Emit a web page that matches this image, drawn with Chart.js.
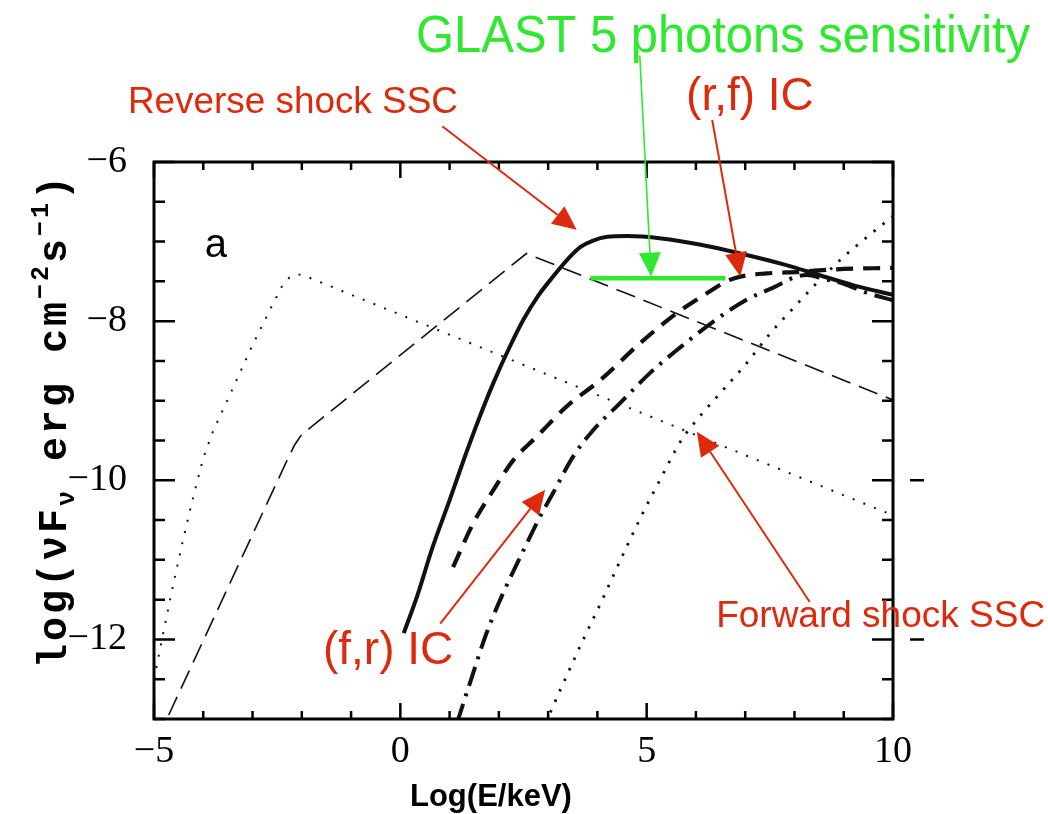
<!DOCTYPE html>
<html>
<head>
<meta charset="utf-8">
<script src="https://cdn.jsdelivr.net/npm/chart.js@4.4.0/dist/chart.umd.min.js"></script>
<style>
  html, body { margin: 0; padding: 0; background: #fff; }
  #chart { display: block; }
</style>
</head>
<body>
<canvas id="chart" width="1048" height="814"></canvas>
<script>
// ---- data (log E/keV  vs  log nuFnu) ----
const xTickVals = [-5, 0, 5, 10];
const yTickVals = [-12, -10, -8, -6];

// thin dotted, peak near -2
const revSynX = [-5.0, -4.8, -4.6, -4.4, -4.2, -4.0, -3.8, -3.5, -3.0, -2.6, -2.4, -2.25, -2.08, -1.9, 10.0];
const revSynY = [-12.5, -11.88, -11.28, -10.72, -10.2, -9.72, -9.38, -8.98, -8.3, -7.8, -7.56, -7.45, -7.41, -7.44, -10.44];

// thin long dashed, peak near 2.6
const fwdSynX = [-4.95, -2.3, -2.15, -2.02, -1.85, 2.56, 10.0];
const fwdSynY = [-13.28, -9.75, -9.56, -9.44, -9.35, -7.15, -8.99];

// thick solid: reverse shock SSC
const revSscX = [0.07, 0.35, 0.65, 1.0, 1.3, 1.6, 1.9, 2.2, 2.5, 2.8, 3.1, 3.4, 3.65, 3.9, 4.2, 4.6, 5.3, 6.1, 6.9, 7.8, 8.5, 9.2, 10.0];
const revSscY = [-11.92, -11.44, -10.85, -10.25, -9.72, -9.22, -8.76, -8.35, -7.98, -7.68, -7.44, -7.22, -7.07, -6.99, -6.94, -6.93, -6.96, -7.04, -7.15, -7.29, -7.42, -7.55, -7.67];

// thick dashed: (r,f) IC
const rfIcX = [1.07, 1.48, 1.89, 2.29, 2.77, 3.38, 4.06, 4.86, 5.61, 6.22, 6.62, 6.9, 7.43, 8.11, 8.79, 10.0];
const rfIcY = [-11.09, -10.54, -10.12, -9.75, -9.45, -9.07, -8.74, -8.28, -7.9, -7.65, -7.5, -7.44, -7.4, -7.38, -7.35, -7.33];

// thick dash-dot: (f,r) IC
const frIcX = [1.15, 1.48, 1.75, 2.1, 2.5, 2.8, 3.1, 3.51, 3.9, 4.46, 5.07, 5.68, 6.3, 7.0, 7.6, 8.0, 8.25, 8.6, 9.0, 9.4, 10.0];
const frIcY = [-13.05, -12.42, -11.92, -11.4, -10.88, -10.5, -10.16, -9.7, -9.38, -9.03, -8.65, -8.33, -8.03, -7.74, -7.57, -7.45, -7.42, -7.47, -7.53, -7.63, -7.74];

// dotted: forward shock SSC
const fwdSscX = [2.95, 3.3, 3.7, 4.1, 4.5, 4.9, 5.3, 5.7, 6.1, 6.5, 7.0, 7.5, 8.0, 8.5, 9.0, 9.5, 10.0];
const fwdSscY = [-13.05, -12.56, -12.02, -11.5, -10.96, -10.44, -9.96, -9.5, -9.18, -8.9, -8.55, -8.16, -7.82, -7.49, -7.19, -6.93, -6.68];

// GLAST 5 photons sensitivity
const glastX = [3.86, 6.6];
const glastY = [-7.46, -7.46];

const RED = '#dc2a0c';
const GREEN = '#2fe82f';

// annotations: arrow tail/tip and label anchor, in data units
const notes = [
  { text: 'GLAST 5 photons sensitivity', at: [0.32, -4.62], size: 52, width: 614, color: GREEN,
    from: [4.86, -4.66], to: [5.09, -7.44], lw: 1.6 },
  { text: '(r,f) IC', at: [5.8, -5.35], size: 46, width: 134, color: RED,
    from: [6.33, -5.47], to: [6.9, -7.44], lw: 2 },
  { text: 'Reverse shock SSC', at: [-5.53, -5.38], size: 37, width: 330, color: RED,
    from: [0.85, -5.55], to: [3.58, -6.85], lw: 2 },
  { text: '(f,r) IC', at: [-1.57, -12.31], size: 46, width: 135, color: RED,
    from: [0.81, -11.8], to: [2.94, -10.12], lw: 2 },
  { text: 'Forward shock SSC', at: [6.41, -11.84], size: 37, width: 330, color: RED,
    from: [8.31, -11.53], to: [6.02, -9.39], lw: 2 }
];

const toPts = (xs, ys) => xs.map((x, i) => ({ x, y: ys[i] }));
const fmt = v => String(v).replace('-', '\u2212');

function arrow(ctx, x1, y1, x2, y2, color, lw) {
  const a = Math.atan2(y2 - y1, x2 - x1);
  const hl = 24, hw = 11;
  const bx = x2 - hl * Math.cos(a), by = y2 - hl * Math.sin(a);
  ctx.strokeStyle = color;
  ctx.lineWidth = lw;
  ctx.beginPath();
  ctx.moveTo(x1, y1);
  ctx.lineTo(bx, by);
  ctx.stroke();
  ctx.fillStyle = color;
  ctx.beginPath();
  ctx.moveTo(x2, y2);
  ctx.lineTo(bx + hw * Math.sin(a), by - hw * Math.cos(a));
  ctx.lineTo(bx - hw * Math.sin(a), by + hw * Math.cos(a));
  ctx.closePath();
  ctx.fill();
}

function drawYTitle(ctx) {
  ctx.save();
  ctx.translate(66, 668);
  ctx.rotate(-Math.PI / 2);
  ctx.fillStyle = '#000';
  ctx.textBaseline = 'alphabetic';
  const big = 'bold 40px "Liberation Mono"';
  const small = 'bold 25px "Liberation Mono"';
  const parts = [
    ['log(\u03bdF', big, 0], ['\u03bd', small, 8], [' erg cm', big, 0],
    ['\u22122', small, -18], ['s', big, 0], ['\u22121', small, -18], [')', big, 0]
  ];
  let x = 0;
  parts.forEach(([t, f, dy]) => {
    ctx.font = f;
    for (const ch of t) {
      ctx.fillText(ch, x, dy);
      x += ctx.measureText(ch).width + 3;
    }
  });
  ctx.restore();
}

// frame, inward ticks, labels and arrows
const decorations = {
  id: 'decorations',
  afterDraw(chart) {
    const { ctx, chartArea: ca, scales: { x, y } } = chart;
    ctx.save();
    ctx.strokeStyle = '#000';
    ctx.lineWidth = 3;
    ctx.strokeRect(ca.left, ca.top, ca.right - ca.left, ca.bottom - ca.top);

    ctx.lineWidth = 2.5;
    ctx.beginPath();
    for (let v = -5; v <= 10; v++) {
      const px = x.getPixelForValue(v);
      const len = v % 5 === 0 ? 16 : 8;
      ctx.moveTo(px, ca.bottom); ctx.lineTo(px, ca.bottom - len);
      ctx.moveTo(px, ca.top); ctx.lineTo(px, ca.top + len);
    }
    for (let v = -13; v <= -6; v += 0.5) {
      const py = y.getPixelForValue(v);
      const len = v % 2 === 0 ? 21 : 11;
      ctx.moveTo(ca.left, py); ctx.lineTo(ca.left + len, py);
      ctx.moveTo(ca.right, py); ctx.lineTo(ca.right - len, py);
    }
    // stray marks right of the frame
    [-10, -12].forEach(v => {
      const py = y.getPixelForValue(v);
      ctx.moveTo(ca.right + 17, py); ctx.lineTo(ca.right + 31, py);
    });
    ctx.stroke();

    // panel letter
    ctx.fillStyle = '#000';
    ctx.font = '40px "Liberation Sans"';
    ctx.textAlign = 'left';
    ctx.textBaseline = 'alphabetic';
    ctx.fillText('a', x.getPixelForValue(-3.97), y.getPixelForValue(-7.2));

    // axis titles
    ctx.font = 'bold 31px "Liberation Sans"';
    ctx.fillText('Log(E/keV)', 410, 806);
    drawYTitle(ctx);

    // annotations
    notes.forEach(n => {
      ctx.fillStyle = n.color;
      ctx.font = n.size + 'px "Liberation Sans"';
      ctx.fillText(n.text, x.getPixelForValue(n.at[0]), y.getPixelForValue(n.at[1]), n.width);
      arrow(ctx,
        x.getPixelForValue(n.from[0]), y.getPixelForValue(n.from[1]),
        x.getPixelForValue(n.to[0]), y.getPixelForValue(n.to[1]),
        n.color, n.lw);
    });
    ctx.restore();
  }
};

const line = (data, opts) => Object.assign({
  data, showLine: true, fill: false, pointRadius: 0, borderColor: '#111', borderWidth: 2
}, opts);

new Chart(document.getElementById('chart'), {
  type: 'scatter',
  data: {
    datasets: [
      line(toPts(glastX, glastY), { borderColor: GREEN, borderWidth: 4.5 }),
      line(toPts(revSscX, revSscY), { borderWidth: 4, cubicInterpolationMode: 'monotone' }),
      line(toPts(rfIcX, rfIcY), { borderWidth: 4.2, borderDash: [17, 10], cubicInterpolationMode: 'monotone' }),
      line(toPts(frIcX, frIcY), { borderWidth: 4, borderDash: [20, 8, 3, 8], cubicInterpolationMode: 'monotone' }),
      line(toPts(fwdSscX, fwdSscY), { borderWidth: 2.8, borderDash: [2.5, 9], cubicInterpolationMode: 'monotone' }),
      line(toPts(fwdSynX, fwdSynY), { borderWidth: 1.6, borderDash: [20, 9] }),
      line(toPts(revSynX, revSynY), { borderWidth: 2, borderDash: [2, 9.5] })
    ]
  },
  options: {
    responsive: false,
    animation: false,
    devicePixelRatio: 1,
    layout: { padding: { top: 162, right: 155, left: 0, bottom: 0 } },
    plugins: { legend: { display: false }, tooltip: { enabled: false } },
    scales: {
      x: {
        type: 'linear', min: -5, max: 10,
        grid: { display: false, drawTicks: false },
        border: { display: false },
        afterBuildTicks: s => { s.ticks = xTickVals.map(v => ({ value: v })); },
        afterFit: s => { s.height = 95; },
        ticks: {
          padding: 10, maxRotation: 0, autoSkip: false, color: '#000',
          font: { family: 'Liberation Serif', size: 38 },
          callback: v => fmt(v)
        }
      },
      y: {
        type: 'linear', min: -13, max: -6,
        grid: { display: false, drawTicks: false },
        border: { display: false },
        afterBuildTicks: s => { s.ticks = yTickVals.map(v => ({ value: v })); },
        afterFit: s => { s.width = 154; },
        ticks: {
          padding: 27, autoSkip: false, color: '#000',
          font: { family: 'Liberation Serif', size: 38 },
          callback: v => fmt(v)
        }
      }
    }
  },
  plugins: [decorations]
});
</script>
</body>
</html>
